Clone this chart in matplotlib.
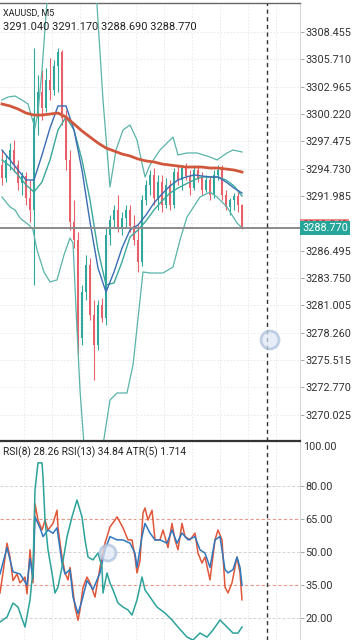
import matplotlib
matplotlib.use("Agg")
import matplotlib.pyplot as plt
import matplotlib.transforms as mtransforms
from matplotlib.patches import Circle
import numpy as np

plt.rcParams['font.family'] = ['Roboto', 'DejaVu Sans']

# ---------------- data ----------------
symbol = "XAUUSD, M5"

opens = [3295.10, 3293.80, 3295.61, 3296.61, 3295.10, 3293.30, 3294.00, 3291.79, 3290.59, 3299.82,
         3302.43, 3300.83, 3303.64, 3302.63, 3305.04, 3306.45, 3299.82, 3295.61, 3289.38, 3287.57,
         3277.73, 3282.35, 3285.06, 3280.04, 3277.03, 3281.05, 3279.74, 3288.08, 3289.58, 3290.59,
         3288.78, 3289.78, 3290.59, 3288.98, 3287.57, 3285.37, 3291.59, 3293.10, 3294.10, 3291.79,
         3293.40, 3291.09, 3293.10, 3291.09, 3294.40, 3293.60, 3294.80, 3294.00, 3292.79, 3294.60,
         3293.80, 3292.59, 3293.60, 3292.09, 3294.10, 3294.60, 3292.09, 3290.89, 3291.59, 3291.99,
         3291.04]
highs = [3296.61, 3296.11, 3297.31, 3297.61, 3295.61, 3294.40, 3294.40, 3293.60, 3306.85, 3304.14,
         3304.64, 3304.84, 3305.85, 3305.65, 3306.85, 3306.65, 3300.63, 3296.61, 3291.59, 3288.38,
         3283.06, 3286.07, 3285.77, 3281.55, 3281.55, 3281.75, 3288.78, 3290.08, 3291.09, 3292.09,
         3290.39, 3291.09, 3291.09, 3290.08, 3289.08, 3292.09, 3293.60, 3294.60, 3294.80, 3294.10,
         3294.10, 3293.80, 3293.60, 3294.80, 3295.10, 3295.10, 3295.30, 3294.60, 3295.10, 3295.10,
         3294.40, 3294.10, 3294.00, 3294.60, 3295.10, 3295.10, 3292.59, 3291.79, 3292.29, 3292.59,
         3291.17]
lows = [3293.10, 3293.40, 3294.60, 3294.40, 3292.59, 3292.09, 3291.09, 3289.38, 3283.06, 3298.12,
        3299.62, 3300.43, 3301.63, 3302.13, 3302.43, 3299.12, 3294.60, 3288.58, 3286.77, 3276.03,
        3277.03, 3281.55, 3279.54, 3273.52, 3276.53, 3279.34, 3279.04, 3287.07, 3288.78, 3288.38,
        3288.08, 3288.78, 3288.38, 3287.07, 3284.36, 3284.96, 3291.09, 3292.09, 3291.09, 3290.59,
        3290.39, 3290.79, 3290.59, 3290.79, 3293.10, 3292.59, 3293.60, 3292.09, 3292.59, 3293.40,
        3292.09, 3292.39, 3291.59, 3291.79, 3293.60, 3291.59, 3290.59, 3290.08, 3290.59, 3290.39,
        3288.69]
closes = [3293.80, 3295.61, 3296.61, 3295.10, 3293.30, 3294.00, 3291.79, 3290.59, 3299.82, 3302.43,
          3300.83, 3303.64, 3302.63, 3305.04, 3306.45, 3299.82, 3295.61, 3289.38, 3287.57, 3277.73,
          3282.35, 3285.06, 3280.04, 3277.03, 3281.05, 3279.74, 3288.08, 3289.58, 3290.59, 3288.78,
          3289.78, 3290.59, 3288.98, 3287.57, 3285.37, 3291.59, 3293.10, 3294.10, 3291.79, 3293.40,
          3291.09, 3293.10, 3291.09, 3294.40, 3293.60, 3294.80, 3294.00, 3292.79, 3294.60, 3293.80,
          3292.59, 3293.60, 3292.09, 3294.10, 3294.60, 3292.09, 3290.89, 3291.59, 3291.99, 3291.04,
          3288.77]
ask_price = 3289.24

# moving averages sampled every second bar
ma_bars = list(range(0, 61, 2))
ma_slow_red = [3301.23, 3301.03, 3300.73, 3300.32, 3300.12, 3300.12, 3300.22, 3300.32, 3299.92, 3299.22,
               3298.52, 3297.91, 3297.31, 3296.81, 3296.51, 3296.21, 3296.01, 3295.71, 3295.51, 3295.41,
               3295.20, 3295.10, 3295.00, 3294.90, 3294.90, 3294.90, 3294.80, 3294.80, 3294.70, 3294.60,
               3294.40]
ma_fast_blue = [3296.61, 3295.61, 3294.60, 3293.60, 3293.60, 3296.11, 3298.82, 3301.03, 3301.03, 3298.62,
                3294.60, 3289.38, 3284.76, 3282.35, 3284.36, 3286.77, 3288.58, 3289.08, 3290.08, 3291.29,
                3292.19, 3293.00, 3293.60, 3293.90, 3294.10, 3294.00, 3293.90, 3293.90, 3293.40, 3292.79,
                3292.29]
ma_mid_teal = [3295.61, 3295.00, 3294.10, 3293.10, 3292.39, 3293.40, 3295.61, 3298.62, 3299.92, 3298.62,
               3295.61, 3291.59, 3286.57, 3283.06, 3283.26, 3285.37, 3287.87, 3288.58, 3289.48, 3290.59,
               3291.49, 3292.29, 3292.79, 3293.20, 3293.60, 3293.90, 3293.90, 3293.90, 3293.60, 3293.00,
               3291.99]

# bollinger bands
bb_up_bars = [0, 1.5, 3.25, 5, 6.5, 7.5, 8.25, 9, 10, 11, 12, 14.5, 18.25, 21.5, 23.75, 25.25, 27, 28.5,
              30.25, 32, 33.75, 35.75, 37, 39.5, 42.75, 44, 46.25, 48.75, 52, 53.75, 56.25, 57.75, 60]
bb_upper = [3301.63, 3301.93, 3302.03, 3301.63, 3301.23, 3299.82, 3298.82, 3300.43, 3304.64, 3310.16,
            3315.69, 3323.72, 3326.73, 3319.70, 3311.17, 3301.63, 3292.90, 3296.61, 3298.62, 3299.12,
            3297.61, 3293.90, 3295.10, 3296.61, 3297.91, 3296.11, 3296.31, 3296.31, 3295.91, 3295.61,
            3296.31, 3296.61, 3296.41]
bb_lo_bars = [0, 2, 3.25, 4.5, 7, 7.75, 8.75, 10.5, 12, 13.75, 15.5, 17, 17.75, 18.75, 19.5, 20.5, 22, 23.5,
              25.25, 27, 28.75, 31.25, 32.75, 34.5, 35.25, 37, 40.25, 42.75, 44.5, 46.25, 49.5, 52, 53.75,
              56.25, 58.75, 60]
bb_lower = [3291.89, 3290.89, 3290.59, 3289.78, 3288.98, 3288.58, 3286.57, 3284.36, 3283.36, 3283.56,
            3286.07, 3287.77, 3287.27, 3278.54, 3272.51, 3266.99, 3259.46, 3259.46, 3266.99, 3271.51,
            3272.21, 3272.21, 3275.02, 3281.55, 3284.36, 3284.26, 3284.26, 3284.86, 3287.57, 3289.88,
            3291.89, 3292.39, 3291.89, 3290.89, 3289.28, 3288.78]

price_ticks = [3308.455, 3305.710, 3302.965, 3300.220, 3297.475, 3294.730, 3291.985, 3289.240,
               3286.495, 3283.750, 3281.005, 3278.260, 3275.515, 3272.770, 3270.025]

# RSI / ATR panel
rsi8_bars = [-0.5, 0.25, 1.25, 2, 2.75, 3.75, 4.5, 5.75, 6.25, 7, 7.75, 8.25, 9, 10, 10.75, 11.5, 12.75,
             13.75, 14, 15, 15.75, 16.5, 17, 17.5, 18.25, 19, 19.5, 20.25, 21.25, 22, 23.25, 24.5, 25.75,
             27, 28.25, 28.75, 30.25, 31.5, 32.5, 33.25, 33.75, 34.5, 35.25, 35.75, 36.5, 37.5, 38.25,
             39.5, 40.25, 41.5, 42.5, 43.25, 44, 45, 45.75, 47, 48.25, 49, 50, 50.75, 52, 53.25, 54, 55,
             55.75, 56.5, 57.5, 58.75, 59.5, 60]
rsi8 = [31.4, 40.5, 54, 47.7, 37, 40, 36, 38.6, 31, 51, 36, 72, 64.5, 60, 64.5, 60, 63, 69, 61, 47.7,
        40.5, 37.3, 43, 36, 25, 19, 23.6, 34, 38.6, 36, 29.5, 43, 54, 61.4, 64.5, 66, 61, 55.5, 55.5, 47.7,
        40.5, 46, 67.7, 70, 64.5, 69, 55.5, 55.5, 60, 52, 63, 55.5, 51, 63, 57, 55.5, 58.6, 49.5, 45, 47.7,
        37.3, 55.5, 60, 55.5, 34, 31.4, 36, 47.7, 40.5, 28.26]
rsi13_bars = [-0.5, 1.25, 2.75, 4.5, 6.25, 7, 7.75, 8.25, 9.5, 10.25, 11.5, 12.75, 13.75, 15, 15.75, 17,
              17.75, 19, 20, 21.25, 22.75, 24.5, 25.75, 27, 28.75, 30.25, 32, 33.25, 33.75, 35, 35.75, 37,
              38.25, 39.5, 41.25, 42.5, 43.75, 45, 46.5, 48.25, 49.5, 50.75, 52, 53.25, 54.5, 55.75, 56.5,
              57.75, 58.75, 59.5, 60]
rsi13 = [40, 52, 41, 40, 35, 47, 38, 66, 61, 57, 60, 58.5, 61, 45, 40, 42, 29.5, 22, 28, 37,
         33, 40.5, 51, 57, 55.5, 55.5, 54, 49.5, 43, 57, 63, 58.6, 55.5, 55.5, 54, 60, 54, 58.6, 55.5, 57,
         51, 49.5, 43, 55.5, 57, 42, 40.5, 42, 47.7, 43, 34.84]
atr_bars = [-0.5, 1.25, 2.75, 4, 5.75, 7, 7.75, 8.25, 9, 10, 10.25, 10.75, 11.5, 12.5, 13.25, 14, 15,
            16.25, 17.5, 18.75, 20, 20.75, 21.5, 22.75, 24, 25, 25.25, 26.25, 27, 27.75, 29, 30.25, 31.5,
            32.5, 33.75, 35, 35.75, 37, 38.75, 40.75, 42.5, 44, 46.25, 47.75, 49.5, 51.25, 52.75, 54.5,
            56.25, 57.75, 59, 60]
atr5 = [1.99, 2.26, 3.03, 2.81, 1.71, 3.20, 4.85, 9.24, 10.73, 10.73, 9.96, 7.59, 5.95, 4.68, 3.58, 3.91,
        5.01, 6.66, 7.76, 8.69, 7.76, 6.49, 5.56, 5.40, 5.78, 5.01, 3.58, 4.68, 4.13, 3.75, 3.03, 2.81,
        2.65, 2.37, 3.20, 4.46, 3.75, 3.36, 2.81, 2.48, 2.10, 1.71, 1.16, 1.00, 1.38, 1.16, 1.55, 2.10,
        1.71, 1.38, 1.38, 1.714]
rsi_ticks = [80, 65, 50, 35, 20]
rsi_top_label = 100
rsi_red_levels = [65, 35]
rsi_gray_levels = [80, 50, 20]

# ---------------- styling ----------------
UP = '#2fa89b'
DOWN = '#e8606a'
W, H = 360, 640
fig = plt.figure(figsize=(W / 100, H / 100), dpi=100)
fig.patch.set_facecolor('white')


def box(x0, y0, x1, y1):
    return [x0 / W, 1 - y1 / H, (x1 - x0) / W, (y1 - y0) / H]


ax = fig.add_axes(box(0, 3, 300, 441))
ax.set_xlim(-0.5, 74.5)
ax.set_ylim(3267.39, 3311.37)

for i, (o, h, l, c) in enumerate(zip(opens, highs, lows, closes)):
    col = UP if c >= o else DOWN
    ax.vlines(i, l, h, color=col, lw=0.8, zorder=3)
    ax.bar(i, max(abs(c - o), 0.08), bottom=min(o, c), width=0.5, color=col, lw=0, zorder=3)

ax.plot(bb_up_bars, bb_upper, color='#5ab4a9', lw=0.9, zorder=4)
ax.plot(bb_lo_bars, bb_lower, color='#5ab4a9', lw=0.9, zorder=4)
ax.plot(ma_bars, ma_mid_teal, color='#3aa89c', lw=1.0, zorder=4)
ax.plot(ma_bars, ma_fast_blue, color='#3a6db4', lw=1.0, zorder=4)
ax.plot(ma_bars, ma_slow_red, color='#d0573b', lw=2.0, zorder=5)

ax.axhline(closes[-1], color='#8a8a8a', lw=1.4, zorder=6)

ax.yaxis.tick_right()
ax.set_yticks(price_ticks)
ax.set_yticklabels(["" if abs(t - ask_price) < 0.01 else f"{t:.3f}" for t in price_ticks])
ax.tick_params(axis='y', direction='out', length=3, width=0.6, color='#999999', pad=1,
               labelsize=7.8, labelcolor='#333333')
ax.set_xticks([])
ax.grid(axis='y', color='#e6e6e6', ls=(0, (2, 2)), lw=0.6)
for s in ['left', 'bottom']:
    ax.spines[s].set_visible(False)
ax.spines['top'].set_color('#666666')
ax.spines['top'].set_linewidth(1.0)
ax.spines['right'].set_color('#d6d6d6')

vgrid = np.arange(5.5, 74.5, 7)
for g in vgrid:
    ax.axvline(g, color='#e8e8e8', ls=(0, (2, 2)), lw=0.6, zorder=1)
ax.axvline(66.25, color='#333333', lw=1.0, ls=(0, (3, 2.5)), zorder=7)

trans = mtransforms.blended_transform_factory(ax.transAxes, ax.transData)
ax.text(1.007, closes[-1] + 0.28, f"{ask_price:.3f}", transform=trans, va='center', ha='left',
        fontsize=7.8, color='#b03a3a',
        bbox=dict(boxstyle='square,pad=0.15', fc='#e88a8a', ec='none'), clip_on=False, zorder=9)
ax.text(1.007, closes[-1], f"{closes[-1]:.3f}", transform=trans, va='center', ha='left',
        fontsize=7.8, color='white',
        bbox=dict(boxstyle='square,pad=0.2', fc='#26a69a', ec='none'), clip_on=False, zorder=10)

# ---------------- RSI panel ----------------
rx = fig.add_axes(box(0, 441, 300, 640))
rx.set_xlim(-0.5, 74.5)
rx.set_ylim(10, 100.45)
for lv in rsi_gray_levels:
    rx.axhline(lv, color='#d9d0d0', ls=(0, (3, 2)), lw=0.7, zorder=1)
for lv in rsi_red_levels:
    rx.axhline(lv, color='#e79a8c', ls=(0, (3, 2)), lw=0.8, zorder=1)
for g in vgrid:
    rx.axvline(g, color='#e8e8e8', ls=(0, (2, 2)), lw=0.6, zorder=1)
rx.plot(rsi8_bars, rsi8, color='#e0573a', lw=1.1, zorder=3)
rx.plot(rsi13_bars, rsi13, color='#2f78bf', lw=1.1, zorder=4)
rx.axvline(66.25, color='#333333', lw=1.0, ls=(0, (3, 2.5)), zorder=7)

at = rx.twinx()
at.set_ylim(1.0, 11.93)
at.plot(atr_bars, atr5, color='#2ba39b', lw=1.1, zorder=3)
at.set_yticks([])
for s in at.spines.values():
    s.set_visible(False)

rx.yaxis.tick_right()
rx.yaxis.set_label_position('right')
rx.set_yticks(rsi_ticks)
rx.set_yticklabels([f"{t:.2f}" for t in rsi_ticks])
rx.tick_params(axis='y', which='both', left=False, labelleft=False, right=True, labelright=True,
               direction='out', length=3, width=0.6, color='#999999', pad=1,
               labelsize=7.8, labelcolor='#333333')
rx.set_xticks([])
for s in ['left', 'bottom']:
    rx.spines[s].set_visible(False)
rx.spines['top'].set_color('#333333')
rx.spines['top'].set_linewidth(1.6)
rx.spines['right'].set_color('#d6d6d6')

fig.text(303 / W, 1 - 447 / H, f"{rsi_top_label:.2f}", fontsize=7.8, color='#333333',
         va='center', ha='left')

# ---------------- texts ----------------
fig.text(3 / W, 1 - 13 / H, symbol, fontsize=6.5, color='#222222', va='center', ha='left')
fig.text(3 / W, 1 - 27 / H,
         f"{opens[-1]:.3f} {highs[-1]:.3f} {lows[-1]:.3f} {closes[-1]:.3f}",
         fontsize=7.9, color='#222222', va='center', ha='left')
fig.text(3 / W, 1 - 452 / H,
         f"RSI(8) {rsi8[-1]:.2f} RSI(13) {rsi13[-1]:.2f} ATR(5) {atr5[-1]:.3f}",
         fontsize=7.4, color='#222222', va='center', ha='left')

# touch indicators
for (cx, cy, r) in [(270, 340, 9), (108, 553, 8)]:
    fig.add_artist(Circle((cx, H - cy), r, transform=mtransforms.IdentityTransform(),
                          facecolor='#dfe8f5', edgecolor='#a9bfdc', lw=2, alpha=0.7, zorder=20))

fig.savefig('out.png', dpi=100)
